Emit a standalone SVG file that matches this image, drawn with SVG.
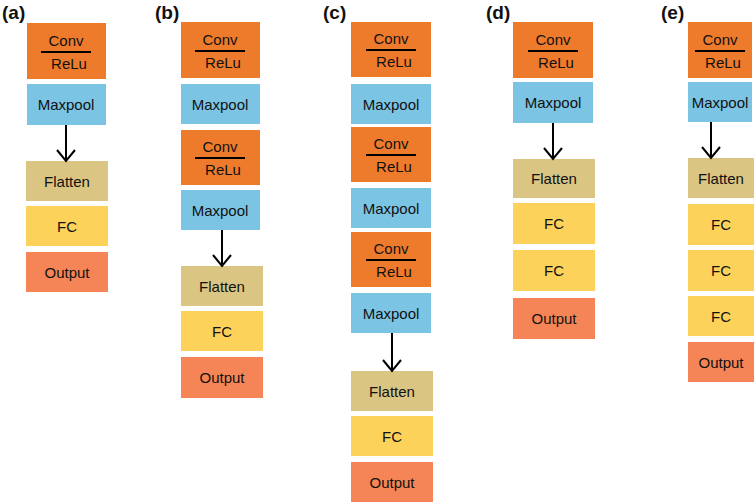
<svg xmlns="http://www.w3.org/2000/svg" width="754" height="503" viewBox="0 0 754 503">
<style>
text{font-family:"Liberation Sans",Arial,sans-serif;font-size:15px;fill:#111;text-anchor:middle}
.lab{font-size:19px;font-weight:bold;text-anchor:start}
.conv{fill:#EE7B2C}.mp{fill:#7CC4E4}.fl{fill:#DBC583}.fc{fill:#FDD25A}.out{fill:#F58556}
.ln{stroke:#000;stroke-width:2}
.ar{stroke:#000;stroke-width:2;fill:none}
</style>
<defs>
<g id="convT"><text x="0" y="-6">Conv</text><line class="ln" x1="-25" y1="0" x2="25" y2="0"/><text x="3" y="17">ReLu</text></g>
</defs>
<text class="lab" x="2" y="19">(a)</text>
<text class="lab" x="155" y="19">(b)</text>
<text class="lab" x="323" y="19">(c)</text>
<text class="lab" x="486" y="19">(d)</text>
<text class="lab" x="661" y="19">(e)</text>
<g id="a">
<rect class="conv" x="27" y="23" width="79" height="56"/><use href="#convT" x="66" y="52"/>
<rect class="mp" x="27" y="84" width="79" height="41"/><text x="66" y="110">Maxpool</text>
<rect class="fl" x="26" y="161" width="82" height="40"/><text x="67" y="187">Flatten</text>
<rect class="fc" x="26" y="206" width="82" height="40"/><text x="67" y="232">FC</text>
<rect class="out" x="26" y="252" width="82" height="40"/><text x="67" y="278">Output</text>
</g>
<g id="b">
<rect class="conv" x="181" y="22" width="79" height="56"/><use href="#convT" x="220" y="51"/>
<rect class="mp" x="181" y="84" width="79" height="40"/><text x="220" y="110">Maxpool</text>
<rect class="conv" x="181" y="130" width="79" height="55"/><use href="#convT" x="220" y="158"/>
<rect class="mp" x="181" y="190" width="79" height="40"/><text x="220" y="216">Maxpool</text>
<rect class="fl" x="181" y="266" width="82" height="40"/><text x="222" y="292">Flatten</text>
<rect class="fc" x="181" y="311" width="82" height="40"/><text x="222" y="337">FC</text>
<rect class="out" x="181" y="357" width="82" height="41"/><text x="222" y="383">Output</text>
</g>
<g id="c">
<rect class="conv" x="351" y="22" width="80" height="55"/><use href="#convT" x="391" y="50"/>
<rect class="mp" x="351" y="84" width="80" height="40"/><text x="391" y="110">Maxpool</text>
<rect class="conv" x="351" y="127" width="80" height="55"/><use href="#convT" x="391" y="155"/>
<rect class="mp" x="351" y="188" width="80" height="40"/><text x="391" y="214">Maxpool</text>
<rect class="conv" x="351" y="232" width="80" height="55"/><use href="#convT" x="391" y="260"/>
<rect class="mp" x="351" y="293" width="80" height="40"/><text x="391" y="319">Maxpool</text>
<rect class="fl" x="351" y="371" width="82" height="40"/><text x="392" y="397">Flatten</text>
<rect class="fc" x="351" y="416" width="82" height="40"/><text x="392" y="442">FC</text>
<rect class="out" x="351" y="462" width="82" height="40"/><text x="392" y="488">Output</text>
</g>
<g id="d">
<rect class="conv" x="513" y="22" width="80" height="56"/><use href="#convT" x="553" y="51"/>
<rect class="mp" x="513" y="82" width="80" height="41"/><text x="553" y="108">Maxpool</text>
<rect class="fl" x="513" y="159" width="82" height="39"/><text x="554" y="184">Flatten</text>
<rect class="fc" x="513" y="203" width="82" height="41"/><text x="554" y="229">FC</text>
<rect class="fc" x="513" y="250" width="82" height="41"/><text x="554" y="276">FC</text>
<rect class="out" x="513" y="298" width="82" height="41"/><text x="554" y="324">Output</text>
</g>
<g id="e">
<rect class="conv" x="688" y="22" width="64" height="56"/><use href="#convT" x="720" y="51"/>
<rect class="mp" x="688" y="82" width="64" height="40"/><text x="720" y="108">Maxpool</text>
<rect class="fl" x="688" y="158" width="66" height="40"/><text x="721" y="184">Flatten</text>
<rect class="fc" x="688" y="204" width="66" height="41"/><text x="721" y="230">FC</text>
<rect class="fc" x="688" y="250" width="66" height="41"/><text x="721" y="276">FC</text>
<rect class="fc" x="688" y="296" width="66" height="40"/><text x="721" y="322">FC</text>
<rect class="out" x="688" y="342" width="66" height="40"/><text x="721" y="368">Output</text>
</g>
<g id="connectors">
<path class="ar" d="M66 125V161M57 150L66 161L75 150"/>
<path class="ar" d="M222 230V266M213 255L222 266L231 255"/>
<path class="ar" d="M392 333V371M383 360L392 371L401 360"/>
<path class="ar" d="M553 123V159M544 148L553 159L562 148"/>
<path class="ar" d="M711 122V158M702 147L711 158L720 147"/>
</g>
</svg>
